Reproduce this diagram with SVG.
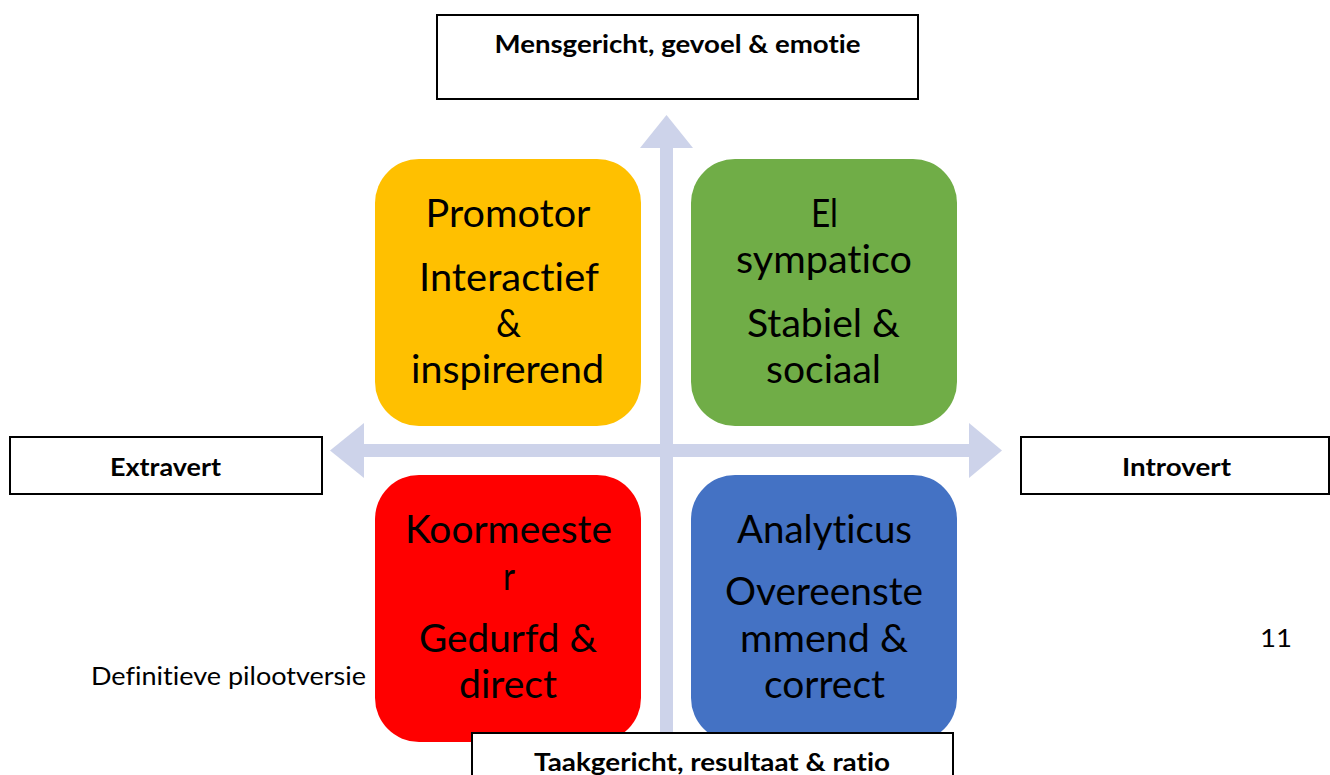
<svg xmlns="http://www.w3.org/2000/svg" width="1330" height="775" viewBox="0 0 1330 775">
  <style>
    text { font-variant-ligatures: none; font-feature-settings: "liga" 0, "dlig" 0; }
    .axis { fill: #CDD3EA; }
    .label-box { fill: #FFFFFF; stroke: #000000; stroke-width: 2; }
    .label { font-family: Lato, "Open Sans", "Liberation Sans", sans-serif; font-weight: bold; font-size: 24px; fill: #000000; text-anchor: middle; }
    .quad-text { font-family: Lato, "Open Sans", "Liberation Sans", sans-serif; font-size: 38px; fill: #000000; text-anchor: middle; }
    .plain { font-family: Lato, "Open Sans", "Liberation Sans", sans-serif; font-size: 25px; fill: #000000; }
  </style>

  <rect width="1330" height="775" fill="#FFFFFF"/>

  <!-- axes -->
  <g id="connectors">
    <rect class="axis" x="660" y="146" width="13" height="629"/>
    <polygon class="axis" points="640,148 666.5,115 693,148"/>
    <rect class="axis" x="362" y="444" width="609" height="13"/>
    <polygon class="axis" points="364,423 330,450.5 364,478"/>
    <polygon class="axis" points="969,423 1002,450.5 969,478"/>
  </g>

  <!-- quadrants -->
  <g id="promotor">
    <rect x="375" y="159" width="266" height="267" rx="44" fill="#FFC000"/>
    <text class="quad-text" x="508" y="227" textLength="165" lengthAdjust="spacingAndGlyphs">Promotor</text>
    <text class="quad-text" x="509" y="291" textLength="180" lengthAdjust="spacingAndGlyphs">Interactief</text>
    <text class="quad-text" x="508.5" y="337" textLength="25" lengthAdjust="spacingAndGlyphs">&amp;</text>
    <text class="quad-text" x="507.5" y="383" textLength="193" lengthAdjust="spacingAndGlyphs">inspirerend</text>
  </g>

  <g id="el-sympatico">
    <rect x="691" y="159" width="266" height="267" rx="44" fill="#70AD47"/>
    <text class="quad-text" x="824.5" y="227" textLength="27" lengthAdjust="spacingAndGlyphs">El</text>
    <text class="quad-text" x="824" y="273" textLength="176" lengthAdjust="spacingAndGlyphs">sympatico</text>
    <text class="quad-text" x="823.5" y="337" textLength="153" lengthAdjust="spacingAndGlyphs">Stabiel &amp;</text>
    <text class="quad-text" x="823.5" y="383" textLength="115" lengthAdjust="spacingAndGlyphs">sociaal</text>
  </g>

  <g id="koormeester">
    <rect x="375" y="475" width="266" height="267" rx="44" fill="#FF0000"/>
    <text class="quad-text" x="508.5" y="543" textLength="207" lengthAdjust="spacingAndGlyphs">Koormeeste</text>
    <text class="quad-text" x="509" y="590" textLength="12" lengthAdjust="spacingAndGlyphs">r</text>
    <text class="quad-text" x="508" y="652" textLength="178" lengthAdjust="spacingAndGlyphs">Gedurfd &amp;</text>
    <text class="quad-text" x="508" y="698" textLength="98" lengthAdjust="spacingAndGlyphs">direct</text>
  </g>

  <g id="analyticus">
    <rect x="691" y="475" width="266" height="267" rx="44" fill="#4472C4"/>
    <text class="quad-text" x="824.5" y="543" textLength="175" lengthAdjust="spacingAndGlyphs">Analyticus</text>
    <text class="quad-text" x="824" y="605" textLength="198" lengthAdjust="spacingAndGlyphs">Overeenste</text>
    <text class="quad-text" x="824" y="652" textLength="168" lengthAdjust="spacingAndGlyphs">mmend &amp;</text>
    <text class="quad-text" x="824.5" y="698" textLength="121" lengthAdjust="spacingAndGlyphs">correct</text>
  </g>

  <!-- axis labels -->
  <g id="label-top">
    <rect class="label-box" x="437" y="15" width="481" height="84"/>
    <text class="label" x="677.5" y="53" textLength="366" lengthAdjust="spacingAndGlyphs">Mensgericht, gevoel &amp; emotie</text>
  </g>

  <g id="label-left">
    <rect class="label-box" x="10" y="437" width="312" height="57"/>
    <text class="label" x="165.5" y="476" textLength="111" lengthAdjust="spacingAndGlyphs">Extravert</text>
  </g>

  <g id="label-right">
    <rect class="label-box" x="1021" y="437" width="308" height="57"/>
    <text class="label" x="1176.5" y="476" textLength="109" lengthAdjust="spacingAndGlyphs">Introvert</text>
  </g>

  <g id="label-bottom">
    <rect class="label-box" x="472" y="733" width="481" height="60"/>
    <text class="label" x="712" y="771" textLength="356" lengthAdjust="spacingAndGlyphs">Taakgericht, resultaat &amp; ratio</text>
  </g>

  <!-- page footer text -->
  <text class="plain" x="91" y="685" textLength="275" lengthAdjust="spacingAndGlyphs">Definitieve pilootversie</text>
  <text class="plain" x="1260" y="647" textLength="32" lengthAdjust="spacingAndGlyphs">11</text>
</svg>
